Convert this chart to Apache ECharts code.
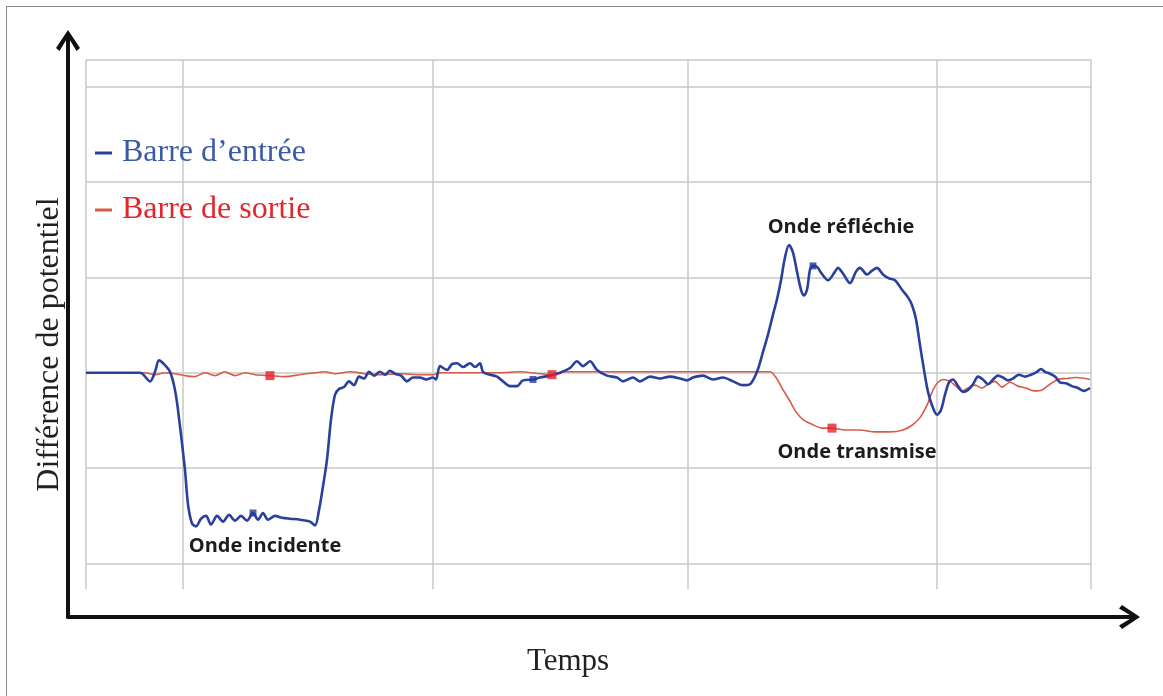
<!DOCTYPE html>
<html>
<head>
<meta charset="utf-8">
<script src="https://cdn.jsdelivr.net/npm/echarts@6/dist/echarts.min.js"></script>
<style>
  html, body { margin: 0; padding: 0; background: #fff; }
  #frame { position: absolute; left: 6px; top: 6px; width: 1300px; height: 800px;
           border-left: 1px solid #8c8c8c; border-top: 1px solid #8c8c8c; }
  #chart { position: absolute; left: 0; top: 0; width: 1163px; height: 696px; }
</style>
</head>
<body>
<div id="frame"></div>
<div id="chart"></div>
<script>
// Signal times (µs) and voltages (mV) of the input bar gauge
const timeEntree = [0, 54, 64, 69, 73, 78, 84, 88, 91, 95, 99, 102, 106, 110, 115, 120, 125, 131, 137, 143,
  149, 155, 161, 167, 172, 177, 182, 189, 196, 204, 214, 224, 229, 233, 237, 241, 245, 249, 253, 258,
  263, 268, 273, 278, 283, 288, 294, 299, 304, 309, 315, 321, 327, 334, 340, 347, 350, 354, 361, 366,
  371, 377, 384, 389, 394, 397, 404, 411, 417, 424, 431, 437, 447, 454, 464, 474, 484, 491, 497, 504,
  511, 521, 531, 537, 547, 554, 564, 574, 584, 594, 601, 607, 617, 627, 637, 647, 657, 664, 671, 677,
  682, 687, 691, 695, 699, 703, 707, 711, 715, 718, 721, 724, 727, 731, 735, 742, 749, 752, 757, 764,
  770, 774, 781, 786, 791, 797, 803, 809, 816, 822, 826, 830, 834, 838, 842, 847, 851, 855, 859, 863,
  867, 872, 877, 882, 887, 892, 897, 902, 907, 912, 917, 922, 927, 933, 939, 945, 951, 955, 959, 964,
  969, 974, 980, 986, 992, 998, 1004];
const tensionEntree = [0, 0, -9, 1, 13, 9, 1, -13, -31, -65, -102, -138, -158, -161, -153, -150, -159, -150, -156, -149,
  -155, -150, -155, -147, -154, -147, -154, -150, -152, -153, -154, -156, -160, -144, -119, -91, -49, -23, -17, -15,
  -9, -13, -4, -6, 1, -3, 1, -2, 2, -1, -3, -9, -5, -5, -7, -5, -7, 7, 3, 9,
  10, 6, 10, 6, 10, 1, -2, -4, -9, -14, -14, -8, -7, -5, -3, 0, 5, 12, 7, 12,
  3, -3, -5, -9, -5, -9, -4, -6, -4, -6, -8, -5, -3, -7, -5, -9, -13, -12, 1, 22,
  40, 61, 77, 97, 121, 134, 126, 106, 87, 81, 87, 108, 112, 111, 105, 97, 106, 110, 104, 94,
  106, 110, 103, 107, 110, 103, 99, 97, 87, 79, 71, 56, 29, 3, -20, -37, -44, -39, -23, -10,
  -7, -14, -20, -18, -12, -4, -7, -12, -7, -3, -5, -8, -6, -2, -4, -2, 1, 4, 1, -1,
  -4, -10, -11, -14, -16, -19, -16];

// Signal times (µs) and voltages (mV) of the output bar gauge
const timeSortie = [0, 59, 69, 79, 89, 99, 109, 119, 129, 139, 149, 159, 169, 184, 199, 214, 229, 239, 249, 264,
  279, 294, 314, 334, 347, 354, 384, 414, 434, 454, 466, 479, 514, 564, 614, 654, 684, 690, 696, 703,
  710, 717, 726, 736, 746, 759, 774, 789, 804, 817, 826, 834, 841, 847, 852, 857, 864, 870, 876, 882,
  889, 896, 902, 909, 916, 924, 932, 940, 948, 956, 964, 972, 980, 990, 1004];
const tensionSortie = [0, 0, -2, 0, -1, -3, -4, 0, -3, 1, -3, 0, -2, -3, -4, -2, 0, 1, -1, 1,
  -1, -2, -1, -2, -2, 0, 0, 0, 1, -1, -2, 1, 1, 1, 1, 1, 1, -5, -16, -28,
  -41, -49, -54, -58, -58, -60, -60, -62, -62, -60, -55, -47, -34, -18, -10, -7, -9, -14, -19, -16,
  -13, -16, -12, -9, -15, -10, -14, -16, -19, -18, -12, -7, -6, -5, -7];

// Sample times carrying a point marker on each trace
const reperesEntree = [167, 447, 727];
const reperesSortie = [184, 466, 746];

// Grid positions: vertical lines (µs) and horizontal lines (mV)
const grilleTemps = [0, 97, 347, 602, 851, 1005];
const grilleTension = [-200, -100, 0, 100, 200, 300, 328];
const grilleBas = -227;
const grilleHaut = 328;

// Wave labels and where they sit (µs, mV)
const notes = [
  { nom: 'Onde incidente', t: 179, v: -182 },
  { nom: 'Onde réfléchie', t: 755, v: 153 },
  { nom: 'Onde transmise', t: 771, v: -83 }
];

const NOM_ENTREE = 'Barre d\u2019entrée';
const NOM_SORTIE = 'Barre de sortie';

const paires = (ts, vs) => ts.map((t, i) => [t, vs[i]]);
const reperes = (temps, ts, vs) => temps.map(t => [t, vs[ts.indexOf(t)]]);

const lignesGrille = [];
grilleTemps.forEach(t => lignesGrille.push([{ coord: [t, grilleBas] }, { coord: [t, grilleHaut] }]));
grilleTension.forEach(v => lignesGrille.push([{ coord: [grilleTemps[0], v] }, { coord: [grilleTemps[grilleTemps.length - 1], v] }]));

const chevron = 'path://M0,0 L12,18 L8.5,21 L0,7 L-8.5,21 L-12,18 Z';
const serif = '"Liberation Serif", "Times New Roman", serif';

const chart = echarts.init(document.getElementById('chart'), null, { renderer: 'canvas' });
chart.setOption({
  animation: false,
  backgroundColor: 'transparent',
  grid: { left: 68, right: 29, top: 36, bottom: 79, containLabel: false },
  legend: {
    orient: 'vertical',
    left: 90,
    top: 132,
    itemWidth: 17,
    itemHeight: 3,
    itemGap: 25,
    selectedMode: false,
    textStyle: { fontFamily: serif, fontSize: 32, padding: [0, 0, 0, 5] },
    data: [
      { name: NOM_ENTREE, icon: 'rect', textStyle: { color: '#3b5ba7' } },
      { name: NOM_SORTIE, icon: 'rect', textStyle: { color: '#e2262c' } }
    ]
  },
  xAxis: {
    type: 'value',
    min: -18,
    max: 1048,
    name: 'Temps',
    nameLocation: 'middle',
    nameGap: 29,
    nameTextStyle: { fontFamily: serif, fontSize: 31, color: '#222', padding: [0, 66, 0, 0] },
    axisLine: { show: true, onZero: false, symbol: ['none', chevron], symbolSize: [24, 21], symbolOffset: [0, -4.5],
                lineStyle: { color: '#111', width: 4 } },
    axisTick: { show: false },
    axisLabel: { show: false },
    splitLine: { show: false }
  },
  yAxis: {
    type: 'value',
    min: -256,
    max: 353,
    name: 'Différence de potentiel',
    nameLocation: 'middle',
    nameRotate: 90,
    nameGap: 2,
    nameTextStyle: { fontFamily: serif, fontSize: 32, color: '#222', padding: [0, 36, 0, 0] },
    axisLine: { show: true, onZero: false, symbol: ['none', chevron], symbolSize: [24, 21], symbolOffset: [0, -4.5],
                lineStyle: { color: '#111', width: 4 } },
    axisTick: { show: false },
    axisLabel: { show: false },
    splitLine: { show: false }
  },
  series: [
    {
      name: NOM_SORTIE,
      type: 'line',
      data: paires(timeSortie, tensionSortie),
      showSymbol: false,
      smooth: 0.3,
      z: 2,
      color: '#d65c48',
      lineStyle: { color: '#d65c48', width: 1.6 },
      markLine: {
        silent: true,
        z: 0,
        symbol: ['none', 'none'],
        label: { show: false },
        lineStyle: { color: '#c9c9c9', width: 1.5, type: 'solid' },
        emphasis: { disabled: true },
        data: lignesGrille
      }
    },
    {
      name: NOM_ENTREE,
      type: 'line',
      data: paires(timeEntree, tensionEntree),
      showSymbol: false,
      smooth: 0.3,
      z: 3,
      color: '#2b3f9c',
      lineStyle: { color: '#2b3f9c', width: 2.6 },
      markPoint: {
        silent: true,
        symbol: 'rect',
        symbolSize: 1,
        itemStyle: { color: 'rgba(0,0,0,0)' },
        label: { show: true, position: 'inside', formatter: '{b}', color: '#1c1c1c',
                 fontFamily: '"Open Sans", "Noto Sans", sans-serif', fontWeight: 'bold', fontSize: 20 },
        data: notes.map(n => ({ name: n.nom, coord: [n.t, n.v] }))
      }
    },
    {
      name: 'repères entrée',
      type: 'scatter',
      data: reperes(reperesEntree, timeEntree, tensionEntree),
      symbol: 'rect',
      symbolSize: 7,
      z: 4,
      itemStyle: { color: '#23389a' }
    },
    {
      name: 'repères sortie',
      type: 'scatter',
      data: reperes(reperesSortie, timeSortie, tensionSortie),
      symbol: 'rect',
      symbolSize: 9,
      z: 4,
      itemStyle: { color: '#e8202a' }
    }
  ]
});
</script>
</body>
</html>
